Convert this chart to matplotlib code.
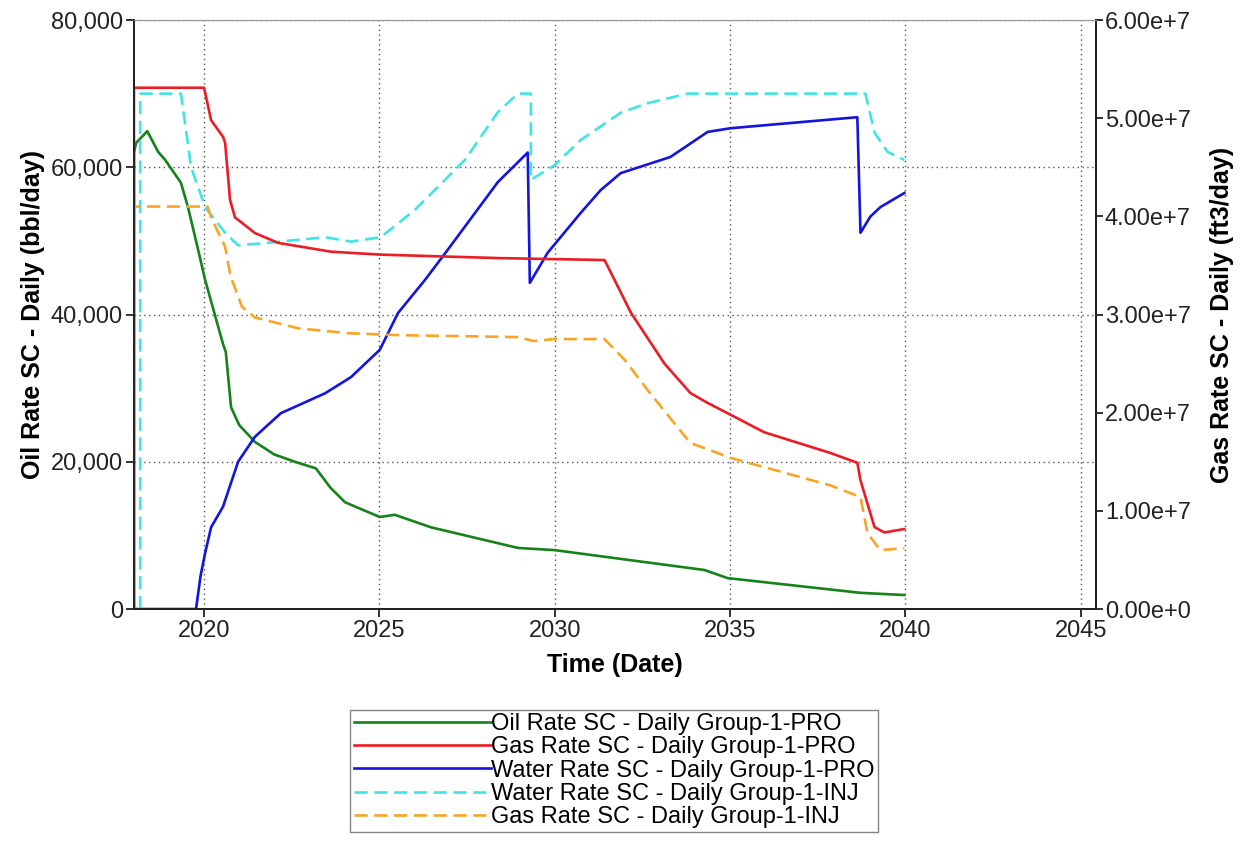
import matplotlib
matplotlib.use("Agg")
import matplotlib.pyplot as plt
from matplotlib.ticker import FuncFormatter, MultipleLocator

plt.rcParams['font.family'] = ['Liberation Sans', 'DejaVu Sans']

# Oil rate (bbl/day), left axis
oil_t = [2018.0, 2018.0, 2018.06, 2018.38, 2018.69, 2018.89, 2019.34, 2019.54, 2019.83, 2020.03,
         2020.54, 2020.62, 2020.77, 2021.0, 2021.45, 2022.0, 2022.59, 2023.19, 2023.6, 2024.02,
         2025.01, 2025.44, 2026.47, 2028.95, 2030.0, 2034.27, 2034.93, 2038.72, 2039.97]
oil_v = [0, 62000, 63300, 64900, 62100, 61000, 57900, 54600, 48800, 44700,
         36000, 34900, 27400, 25000, 22700, 21000, 20000, 19100, 16500, 14500,
         12500, 12800, 11100, 8300, 8000, 5300, 4200, 2200, 1900]

# Gas production (ft3/day), right axis
gas_pro_t = [2018.0, 2018.0, 2020.0, 2020.2, 2020.54, 2020.6, 2020.74, 2020.88, 2021.45, 2022.11,
             2023.62, 2025.04, 2028.38, 2031.42, 2031.71, 2032.17, 2033.13, 2033.87, 2034.36,
             2035.01, 2035.98, 2037.86, 2038.63, 2038.72, 2039.12, 2039.4, 2039.97]
gas_pro_v = [0, 5.31e7, 5.31e7, 4.98e7, 4.81e7, 4.75e7, 4.17e7, 3.99e7, 3.83e7, 3.73e7,
             3.64e7, 3.61e7, 3.575e7, 3.555e7, 3.35e7, 3.02e7, 2.5e7, 2.2e7, 2.1e7,
             1.98e7, 1.8e7, 1.59e7, 1.49e7, 1.31e7, 8.35e6, 7.8e6, 8.15e6]

# Water production (bbl/day), left axis
wat_pro_t = [2018.0, 2019.77, 2019.9, 2020.03, 2020.2, 2020.54, 2020.97, 2021.45, 2022.19, 2023.45,
             2024.19, 2025.01, 2025.53, 2026.3, 2026.95, 2028.38, 2029.23, 2029.29, 2029.8,
             2030.74, 2031.31, 2031.88, 2033.3, 2034.36, 2035.01, 2038.63, 2038.72, 2039.0,
             2039.29, 2039.97]
wat_pro_v = [0, 0, 4500, 7600, 11100, 13900, 20000, 23400, 26600, 29300,
             31500, 35200, 40200, 44700, 48800, 58000, 62000, 44300, 48400,
             53800, 56900, 59200, 61400, 64800, 65300, 66800, 51100, 53300,
             54600, 56500]

# Water injection (bbl/day), left axis
wat_inj_t = [2018.18, 2018.18, 2019.34, 2019.63, 2020.03, 2020.6, 2020.97, 2021.74, 2023.45, 2024.19,
             2025.04, 2026.01, 2027.44, 2028.38, 2028.95, 2029.32, 2029.32, 2030.0, 2030.74,
             2031.88, 2032.65, 2033.79, 2038.86, 2039.12, 2039.49, 2039.97]
wat_inj_v = [0, 70000, 70000, 60000, 54600, 51100, 49400, 49700, 50500, 49900,
             50500, 54200, 61000, 67500, 70000, 70000, 58300, 60300, 63700,
             67400, 68700, 70000, 70000, 64700, 62100, 61000]

# Gas injection (ft3/day), right axis
gas_inj_t = [2018.0, 2018.0, 2020.1, 2020.2, 2020.6, 2020.74, 2020.8, 2021.08, 2021.45, 2022.68,
             2024.1, 2025.53, 2028.95, 2029.4, 2030.0, 2031.42, 2031.99, 2032.65, 2033.87,
             2034.27, 2035.01, 2037.86, 2038.72, 2038.92, 2039.29, 2039.97]
gas_inj_v = [0, 4.1e7, 4.1e7, 3.99e7, 3.69e7, 3.42e7, 3.35e7, 3.08e7, 2.97e7, 2.86e7,
             2.81e7, 2.79e7, 2.77e7, 2.73e7, 2.75e7, 2.75e7, 2.54e7, 2.23e7, 1.69e7,
             1.64e7, 1.54e7, 1.26e7, 1.14e7, 7.7e6, 6.0e6, 6.2e6]

years = [2020, 2025, 2030, 2035, 2040, 2045]

fig = plt.figure(figsize=(12.46, 8.48), dpi=100)
ax = fig.add_axes([0.1075, 0.2818, 0.7725, 0.6946])
ax2 = ax.twinx()

lw = 1.9
l_oil, = ax.plot(oil_t, oil_v, color='#16821a', lw=lw, label='Oil Rate SC - Daily Group-1-PRO')
l_wpro, = ax.plot(wat_pro_t, wat_pro_v, color='#1414e0', lw=lw, label='Water Rate SC - Daily Group-1-PRO')
l_winj, = ax.plot(wat_inj_t, wat_inj_v, color='#40e4e4', lw=lw, dashes=(5, 2.5),
                  label='Water Rate SC - Daily Group-1-INJ')
l_gpro, = ax2.plot(gas_pro_t, gas_pro_v, color='#ec1c24', lw=lw, label='Gas Rate SC - Daily Group-1-PRO')
l_ginj, = ax2.plot(gas_inj_t, gas_inj_v, color='#f7a428', lw=lw, dashes=(5, 2.5),
                   label='Gas Rate SC - Daily Group-1-INJ')

ax.set_xlim(2018.0, 2045.45)
ax.set_ylim(0, 80000)
ax2.set_ylim(0, 6e7)
ax.set_xticks(years)
ax.set_xticklabels([str(y) for y in years])
ax.yaxis.set_major_locator(MultipleLocator(20000))
ax.yaxis.set_major_formatter(FuncFormatter(lambda v, p: f"{int(v):,}"))
ax2.yaxis.set_major_locator(MultipleLocator(1e7))


def sci(v, p):
    if v == 0:
        return "0.00e+0"
    e = 0
    m = v
    while abs(m) >= 10:
        m /= 10
        e += 1
    return f"{m:.2f}e+{e}"


ax2.yaxis.set_major_formatter(FuncFormatter(sci))

ax.grid(True, color='#555555', linestyle=(0, (1, 2.5)), linewidth=1.0)
ax.tick_params(axis='both', labelsize=17, length=6, width=1.3, colors='#222222', pad=2)
ax2.tick_params(axis='y', labelsize=17, length=5, width=1.3, colors='#222222', pad=1)
for a in (ax, ax2):
    a.spines['top'].set_color('#999999')
    a.spines['left'].set_linewidth(1.4)
    a.spines['right'].set_linewidth(1.4)
    a.spines['bottom'].set_linewidth(1.4)
    a.spines['left'].set_color('#222222')
    a.spines['right'].set_color('#222222')
    a.spines['bottom'].set_color('#222222')

ax.set_xlabel('Time (Date)', fontsize=18, fontweight='bold', labelpad=8)
ax.set_ylabel('Oil Rate SC - Daily (bbl/day)', fontsize=18, fontweight='bold', labelpad=4)
ax2.set_ylabel('Gas Rate SC - Daily (ft3/day)', fontsize=18, fontweight='bold', labelpad=14)

handles = [l_oil, l_gpro, l_wpro, l_winj, l_ginj]
leg = fig.legend(handles, [h.get_label() for h in handles], loc='upper left',
                 bbox_to_anchor=(0.281, 0.163), fontsize=17, handlelength=5.8,
                 handletextpad=0.0, labelspacing=0.05, borderpad=0.15,
                 fancybox=False, frameon=True, edgecolor='#666666', borderaxespad=0)
leg.get_frame().set_linewidth(1.0)

fig.savefig('out.png', dpi=100)
